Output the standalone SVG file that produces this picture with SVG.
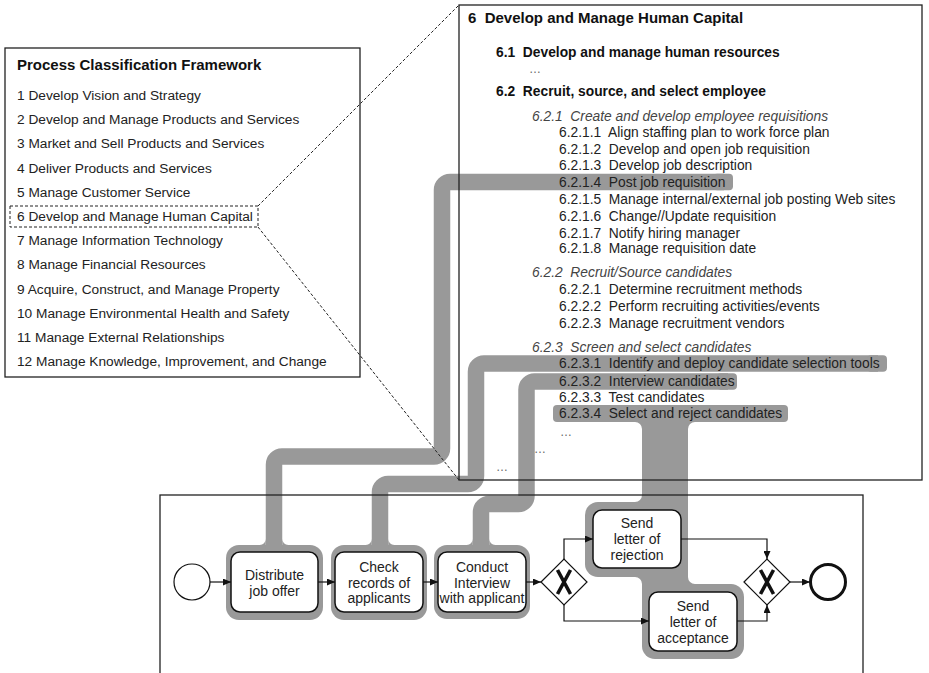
<svg xmlns="http://www.w3.org/2000/svg" width="929" height="673" viewBox="0 0 929 673">
<defs>
<marker id="arr" markerWidth="8" markerHeight="7" refX="8" refY="3.5" orient="auto" markerUnits="userSpaceOnUse"><path d="M0,0 L8,3.5 L0,7 Z" fill="#111"/></marker>
</defs>
<style>
text{font-family:"Liberation Sans",Arial,sans-serif;fill:#222}
#detail text{white-space:pre}
.pcf{font-size:13.7px}
.h1{font-size:15px;font-weight:bold;fill:#111}
.h2{font-size:13.8px;font-weight:bold;fill:#111}
.h3{font-size:13.8px;font-style:italic;fill:#444}
.it{font-size:13.8px}
.dots{font-size:12px;fill:#666}
.band{fill:none;stroke:#999;stroke-width:16.5}
.hl{fill:#999}
.frame{fill:none;stroke:#222;stroke-width:1.3}
.bg{fill:#fff;stroke:none}
.task rect{fill:#fff;stroke:#111;stroke-width:1.5}
.task text{font-size:14px;text-anchor:middle}
.flow{fill:none;stroke:#111;stroke-width:1.2;marker-end:url(#arr)}
.zl{fill:none;stroke:#222;stroke-width:1;stroke-dasharray:3 2}
.gw polygon{fill:#fff;stroke:#111;stroke-width:1.2}
.gw path{fill:none;stroke:#111;stroke-width:3.6}
</style>
<rect width="929" height="673" fill="#fff"/>

<!-- backgrounds -->
<rect class="bg" x="459" y="5" width="463" height="475"/>
<rect class="bg" x="160" y="495" width="703" height="200"/>

<!-- highlight links -->
<g id="links">
  <!-- Distribute job offer -> 6.2.1.4 -->
  <rect class="hl" x="226" y="545" width="97" height="75" rx="13"/>
  <path class="band" d="M274 549 V464.5 A8 8 0 0 1 282 456.5 H434 A8 8 0 0 0 442 448.5 V190 A8 8 0 0 1 450 182 H724"/>
  <rect class="hl" x="713" y="173.75" width="20" height="16.5" rx="4"/>
  <path class="hl" d="M259.75 545 A6 6 0 0 0 265.75 539 L265.75 545 Z M282.25 539 A6 6 0 0 0 288.25 545 L282.25 545 Z"/>
  <!-- Check records -> 6.2.3.1 -->
  <rect class="hl" x="331" y="545" width="96" height="75" rx="13"/>
  <path class="band" d="M380 549 V492 A8 8 0 0 1 388 484 H468 A8 8 0 0 0 476 476 V371.5 A8 8 0 0 1 484 363.5 H878"/>
  <rect class="hl" x="867" y="355.25" width="20" height="16.5" rx="4"/>
  <path class="hl" d="M365.75 545 A6 6 0 0 0 371.75 539 L371.75 545 Z M388.25 539 A6 6 0 0 0 394.25 545 L388.25 545 Z"/>
  <!-- Conduct interview -> 6.2.3.2 -->
  <rect class="hl" x="434" y="545" width="96" height="74" rx="13"/>
  <path class="band" d="M481 549 V512 A8 8 0 0 1 489 504 H518.5 A8 8 0 0 0 526.5 496 V389.5 A8 8 0 0 1 534.5 381.5 H728"/>
  <rect class="hl" x="717" y="373.25" width="20" height="16.5" rx="4"/>
  <path class="hl" d="M466.75 545 A6 6 0 0 0 472.75 539 L472.75 545 Z M489.25 539 A6 6 0 0 0 495.25 545 L489.25 545 Z"/>
  <!-- Send letters -> 6.2.3.4 -->
  <rect class="hl" x="553" y="405" width="235" height="17" rx="4"/>
  <rect class="hl" x="585" y="502" width="103" height="75" rx="13"/>
  <rect class="hl" x="642" y="584" width="102" height="75" rx="13"/>
  <rect class="hl" x="642" y="415" width="46" height="185"/>
  <path class="hl" d="M635 422 A7 7 0 0 1 642 429 L642 422 Z M688 429 A7 7 0 0 1 695 422 L688 422 Z M635 502 A7 7 0 0 0 642 495 L642 502 Z M635 577 A7 7 0 0 1 642 584 L642 577 Z M688 577 A7 7 0 0 0 695 584 L688 584 Z"/>
</g>

<!-- frames -->
<rect class="frame" x="459" y="5" width="463" height="475"/>
<rect class="frame" x="160" y="495" width="703" height="200"/>

<!-- Process Classification Framework -->
<g id="pcf">
  <rect x="5" y="48" width="355" height="329" fill="#fff" stroke="#222" stroke-width="1.3"/>
  <text class="h1" x="17" y="70">Process Classification Framework</text>
  <text class="pcf" x="17" y="100">1 Develop Vision and Strategy</text>
  <text class="pcf" x="17" y="124.2">2 Develop and Manage Products and Services</text>
  <text class="pcf" x="17" y="148.4">3 Market and Sell Products and Services</text>
  <text class="pcf" x="17" y="172.6">4 Deliver Products and Services</text>
  <text class="pcf" x="17" y="196.8">5 Manage Customer Service</text>
  <rect x="10" y="206" width="248" height="21" fill="none" stroke="#222" stroke-width="1" stroke-dasharray="3 2"/>
  <text class="pcf" x="17" y="221">6 Develop and Manage Human Capital</text>
  <text class="pcf" x="17" y="245.2">7 Manage Information Technology</text>
  <text class="pcf" x="17" y="269.4">8 Manage Financial Resources</text>
  <text class="pcf" x="17" y="293.6">9 Acquire, Construct, and Manage Property</text>
  <text class="pcf" x="17" y="317.8">10 Manage Environmental Health and Safety</text>
  <text class="pcf" x="17" y="342">11 Manage External Relationships</text>
  <text class="pcf" x="17" y="366.2">12 Manage Knowledge, Improvement, and Change</text>
</g>

<!-- zoom lines -->
<g id="zoom">
  <path class="zl" d="M258 206 L459 5"/>
  <path class="zl" d="M258 227 L459 480"/>
</g>

<!-- Detail of category 6 -->
<g id="detail">
  <text xml:space="preserve" class="h1" x="468" y="23">6  Develop and Manage Human Capital</text>
  <text xml:space="preserve" class="h2" x="496" y="57">6.1  Develop and manage human resources</text>
  <text class="dots" x="529" y="73">…</text>
  <text xml:space="preserve" class="h2" x="496" y="96">6.2  Recruit, source, and select employee</text>
  <text xml:space="preserve" class="h3" x="532" y="121">6.2.1  Create and develop employee requisitions</text>
  <text xml:space="preserve" class="it" x="559" y="137">6.2.1.1  Align staffing plan to work force plan</text>
  <text xml:space="preserve" class="it" x="559" y="153.5">6.2.1.2  Develop and open job requisition</text>
  <text xml:space="preserve" class="it" x="559" y="170">6.2.1.3  Develop job description</text>
  <text xml:space="preserve" class="it" x="559" y="187">6.2.1.4  Post job requisition</text>
  <text xml:space="preserve" class="it" x="559" y="204">6.2.1.5  Manage internal/external job posting Web sites</text>
  <text xml:space="preserve" class="it" x="559" y="221">6.2.1.6  Change//Update requisition</text>
  <text xml:space="preserve" class="it" x="559" y="237.5">6.2.1.7  Notify hiring manager</text>
  <text xml:space="preserve" class="it" x="559" y="253">6.2.1.8  Manage requisition date</text>
  <text xml:space="preserve" class="h3" x="532" y="277">6.2.2  Recruit/Source candidates</text>
  <text xml:space="preserve" class="it" x="559" y="294">6.2.2.1  Determine recruitment methods</text>
  <text xml:space="preserve" class="it" x="559" y="311">6.2.2.2  Perform recruiting activities/events</text>
  <text xml:space="preserve" class="it" x="559" y="328">6.2.2.3  Manage recruitment vendors</text>
  <text xml:space="preserve" class="h3" x="532" y="352">6.2.3  Screen and select candidates</text>
  <text xml:space="preserve" class="it" x="559" y="368">6.2.3.1  Identify and deploy candidate selection tools</text>
  <text xml:space="preserve" class="it" x="559" y="386">6.2.3.2  Interview candidates</text>
  <text xml:space="preserve" class="it" x="559" y="402">6.2.3.3  Test candidates</text>
  <text xml:space="preserve" class="it" x="559" y="418">6.2.3.4  Select and reject candidates</text>
  <text class="dots" x="560" y="436">…</text>
  <text class="dots" x="534" y="453">…</text>
  <text class="dots" x="496" y="471">…</text>
</g>

<!-- process -->
<g id="start"><circle cx="192" cy="582" r="18" fill="#fff" stroke="#111" stroke-width="1.2"/></g>
<g id="t1" class="task"><rect x="231" y="552" width="87" height="60" rx="9"/><text x="274.5" y="580">Distribute</text><text x="274.5" y="596">job offer</text></g>
<g id="t2" class="task"><rect x="335" y="552" width="88" height="60" rx="9"/><text x="379" y="572">Check</text><text x="379" y="587.5">records of</text><text x="379" y="603">applicants</text></g>
<g id="t3" class="task"><rect x="438" y="552" width="88" height="60" rx="9"/><text x="482" y="572">Conduct</text><text x="482" y="587.5">Interview</text><text x="482" y="603">with applicant</text></g>
<g id="g1" class="gw"><polygon points="541,582 564,559 587,582 564,605"/><path d="M557.5 570 L570.5 594 M570.5 570 L557.5 594"/></g>
<g id="t4" class="task"><rect x="593" y="510" width="88" height="58" rx="9"/><text x="637" y="528">Send</text><text x="637" y="544">letter of</text><text x="637" y="560">rejection</text></g>
<g id="t5" class="task"><rect x="649" y="592" width="88" height="59" rx="9"/><text x="693" y="611">Send</text><text x="693" y="627">letter of</text><text x="693" y="643">acceptance</text></g>
<g id="g2" class="gw"><polygon points="744,582 767,559 790,582 767,605"/><path d="M760.5 570 L773.5 594 M773.5 570 L760.5 594"/></g>
<g id="end"><circle cx="828" cy="582" r="17.5" fill="#fff" stroke="#111" stroke-width="3"/></g>

<g id="flows">
  <path class="flow" d="M210 582 H231"/>
  <path class="flow" d="M318 582 H335"/>
  <path class="flow" d="M423 582 H438"/>
  <path class="flow" d="M526 582 H541"/>
  <path class="flow" d="M564 559 V539 H593"/>
  <path class="flow" d="M564 605 V621 H649"/>
  <path class="flow" d="M681 539 H767 V559"/>
  <path class="flow" d="M737 621 H767 V605"/>
  <path class="flow" d="M790 582 H810"/>
</g>
</svg>
